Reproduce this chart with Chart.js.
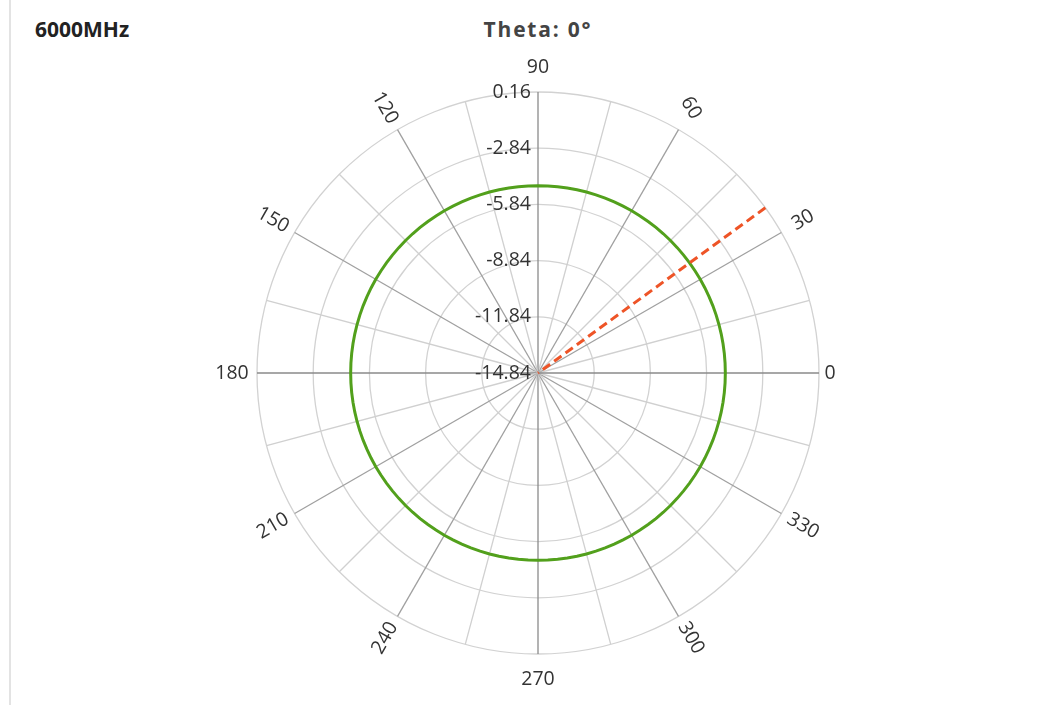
<!DOCTYPE html>
<html>
<head>
<meta charset="utf-8">
<script src="https://cdn.jsdelivr.net/npm/chart.js@4.4.1/dist/chart.umd.min.js"></script>
<style>
  html, body { margin: 0; padding: 0; background: #fff; }
  #wrap { position: relative; width: 1056px; height: 705px; overflow: hidden; background: #fff; }
  #border { position: absolute; left: 9px; top: 0; width: 2px; height: 705px; background: #e3e3e3; }
  #freq { position: absolute; left: 35px; top: 15px; font: bold 21px "Open Sans", sans-serif; color: #222; line-height: 28px; }
  #title { position: absolute; left: 538px; top: 15px; transform: translateX(-50%); font: bold 21px "Open Sans", sans-serif; letter-spacing: 1.8px; color: #444; white-space: nowrap; line-height: 28px; }
  canvas { position: absolute; left: 0; top: 0; }
</style>
</head>
<body>
<div id="wrap">
  <div id="border"></div>
  <div id="freq"></div>
  <div id="title"></div>
  <canvas id="c" width="1056" height="705"></canvas>
</div>
<script>
// ---- data ----
const frequencyLabel = '6000MHz';
const thetaLabel = 'Theta: 0°';

// phi categories (degrees), 3° sampling
const phiDeg = Array.from({ length: 120 }, (_, i) => i * 3);

// gain (dB) per phi at theta = 0 (constant: the pole)
const gainDb = [
  -4.84, -4.84, -4.84, -4.84, -4.84, -4.84, -4.84, -4.84, -4.84, -4.84,
  -4.84, -4.84, -4.84, -4.84, -4.84, -4.84, -4.84, -4.84, -4.84, -4.84,
  -4.84, -4.84, -4.84, -4.84, -4.84, -4.84, -4.84, -4.84, -4.84, -4.84,
  -4.84, -4.84, -4.84, -4.84, -4.84, -4.84, -4.84, -4.84, -4.84, -4.84,
  -4.84, -4.84, -4.84, -4.84, -4.84, -4.84, -4.84, -4.84, -4.84, -4.84,
  -4.84, -4.84, -4.84, -4.84, -4.84, -4.84, -4.84, -4.84, -4.84, -4.84,
  -4.84, -4.84, -4.84, -4.84, -4.84, -4.84, -4.84, -4.84, -4.84, -4.84,
  -4.84, -4.84, -4.84, -4.84, -4.84, -4.84, -4.84, -4.84, -4.84, -4.84,
  -4.84, -4.84, -4.84, -4.84, -4.84, -4.84, -4.84, -4.84, -4.84, -4.84,
  -4.84, -4.84, -4.84, -4.84, -4.84, -4.84, -4.84, -4.84, -4.84, -4.84,
  -4.84, -4.84, -4.84, -4.84, -4.84, -4.84, -4.84, -4.84, -4.84, -4.84,
  -4.84, -4.84, -4.84, -4.84, -4.84, -4.84, -4.84, -4.84, -4.84, -4.84
];

// phi cursor (dashed marker line)
const markerPhiDeg = 36;
const markerRangeDb = [-14.84, 0.16];

// tick labels
const radialTicks = [-14.84, -11.84, -8.84, -5.84, -2.84, 0.16];
const angleTickLabels = [0, 30, 60, 90, 120, 150, 180, 210, 240, 270, 300, 330];

// ---- chart ----
document.getElementById('freq').textContent = frequencyLabel;
document.getElementById('title').textContent = thetaLabel;

const n = phiDeg.length;
// Chart.js radar runs clockwise; phi runs counter-clockwise -> reorder
const chartPhi = phiDeg.map((_, i) => phiDeg[(n - i) % n]);
const chartIndexOf = (deg) => chartPhi.indexOf(deg);
const chartGain = phiDeg.map((_, i) => gainDb[(n - i) % n]);

const markerData = chartPhi.map(() => null);
const mi = chartIndexOf(markerPhiDeg);
markerData[mi] = markerRangeDb[1];
markerData[(mi + 1) % n] = markerRangeDb[0];

const labelPlugin = {
  id: 'polarLabels',
  afterDraw(chart) {
    const s = chart.scales.r;
    const ctx = chart.ctx;
    ctx.save();
    ctx.font = '19.5px "Open Sans", sans-serif';
    ctx.fillStyle = '#333';
    ctx.textAlign = 'right';
    ctx.textBaseline = 'middle';
    s.ticks.forEach(t => {
      const d = s.getDistanceFromCenterForValue(t.value);
      ctx.fillText(t.value.toFixed(2), s.xCenter - 7, s.yCenter - d);
    });
    ctx.textAlign = 'center';
    angleTickLabels.forEach(a => {
      const idx = chartIndexOf(a);
      const extra = a === 0 ? 11 : 25;
      const p = s.getPointPosition(idx, s.drawingArea + extra);
      let rot = 0;
      if (a % 90 !== 0) {
        rot = -a;
        while (rot <= -90) rot += 180;
        while (rot > 90) rot -= 180;
        if (a === 60) rot = 60;
      }
      ctx.save();
      ctx.translate(p.x, p.y);
      ctx.rotate(rot * Math.PI / 180);
      ctx.fillText(String(a), 0, 0);
      ctx.restore();
    });
    ctx.restore();
  }
};

new Chart(document.getElementById('c'), {
  type: 'radar',
  data: {
    labels: chartPhi,
    datasets: [
      {
        label: 'Phi',
        data: markerData,
        borderColor: '#ee5427',
        borderWidth: 3,
        borderDash: [9, 5],
        pointRadius: 0,
        fill: false,
        spanGaps: false
      },
      {
        label: 'Gain',
        data: chartGain,
        borderColor: '#52a01c',
        borderWidth: 3,
        pointRadius: 0,
        fill: false
      }
    ]
  },
  options: {
    responsive: false,
    animation: false,
    devicePixelRatio: 1,
    layout: { padding: { left: 257, right: 237, top: 92, bottom: 51 } },
    plugins: { legend: { display: false }, tooltip: { enabled: false } },
    scales: {
      r: {
        min: radialTicks[0],
        max: radialTicks[radialTicks.length - 1],
        startAngle: 90,
        afterBuildTicks: (sc) => { sc.ticks = radialTicks.map(v => ({ value: v })); },
        ticks: { display: false },
        pointLabels: { display: false },
        grid: {
          circular: true,
          color: (c) => c.index === 0 ? 'rgba(0,0,0,0)' : '#d2d2d2',
          lineWidth: 1.3
        },
        angleLines: {
          color: (c) => {
            const p = chartPhi[c.index];
            if (p % 90 === 0) return '#8a8a8a';
            if (p % 30 === 0) return '#a0a0a0';
            return '#d0d0d0';
          },
          lineWidth: (c) => (chartPhi[c.index] % 15 === 0 ? 1.3 : 0)
        }
      }
    }
  },
  plugins: [labelPlugin]
});
</script>
</body>
</html>
